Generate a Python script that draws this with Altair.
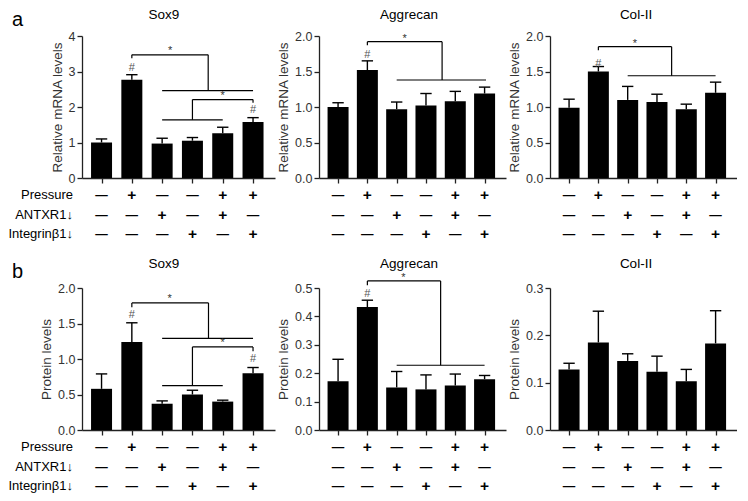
import altair as alt
import pandas as pd

FONT = "Liberation Sans"

# ---------------- data ----------------
genes = ["Sox9", "Aggrecan", "Col-II"]
row_labels = ["Pressure", "ANTXR1\u2193", "Integrin\u03b21\u2193"]
pressure = ["-", "+", "-", "-", "+", "+"]
antxr1 = ["-", "-", "+", "-", "+", "-"]
integrin = ["-", "-", "-", "+", "-", "+"]

# (a) relative mRNA levels
a_sox9_mean = [1.00, 2.77, 0.97, 1.05, 1.26, 1.58]
a_sox9_err = [0.10, 0.14, 0.15, 0.09, 0.17, 0.12]
a_agg_mean = [1.00, 1.52, 0.97, 1.02, 1.08, 1.19]
a_agg_err = [0.06, 0.13, 0.10, 0.17, 0.14, 0.09]
a_col_mean = [0.99, 1.50, 1.10, 1.07, 0.97, 1.20]
a_col_err = [0.12, 0.07, 0.19, 0.11, 0.07, 0.15]

# (b) protein levels
b_sox9_mean = [0.58, 1.24, 0.37, 0.50, 0.40, 0.80]
b_sox9_err = [0.21, 0.27, 0.04, 0.06, 0.02, 0.08]
b_agg_mean = [0.172, 0.433, 0.150, 0.143, 0.157, 0.179]
b_agg_err = [0.077, 0.024, 0.056, 0.051, 0.040, 0.013]
b_col_mean = [0.128, 0.185, 0.146, 0.123, 0.103, 0.183]
b_col_err = [0.013, 0.066, 0.015, 0.033, 0.025, 0.069]

# significance brackets: (x1, y1, x2, y2) in bar-index / value units
a_sox9_br = [(1, 3.37, 1, 3.47), (1, 3.47, 3.52, 3.47), (3.52, 3.47, 3.52, 2.46),
             (2.0, 2.46, 5.0, 2.46), (3.0, 2.21, 5.0, 2.21), (5.0, 2.21, 5.0, 2.12),
             (3.0, 2.21, 3.0, 1.64), (2.0, 1.64, 4.0, 1.64)]
a_sox9_star = [(2.26, 3.58), (4.0, 2.32)]
a_sox9_hash = [(1, 3.11), (5, 1.91)]

a_agg_br = [(1, 1.87, 1, 1.92), (1, 1.92, 3.55, 1.92), (3.55, 1.92, 3.55, 1.38),
            (2.0, 1.38, 5.05, 1.38)]
a_agg_star = [(2.27, 1.96)]
a_agg_hash = [(1, 1.73)]

a_col_br = [(1, 1.80, 1, 1.85), (1, 1.85, 3.5, 1.85), (3.5, 1.85, 3.5, 1.44),
            (2.0, 1.44, 5.0, 1.44)]
a_col_star = [(2.25, 1.89)]
a_col_hash = [(1, 1.61)]

b_sox9_br = [(1, 1.73, 1, 1.79), (1, 1.79, 3.53, 1.79), (3.53, 1.79, 3.53, 1.29),
             (2.0, 1.29, 5.0, 1.29), (3.0, 1.17, 5.0, 1.17), (5.0, 1.17, 5.0, 1.11),
             (3.0, 1.17, 3.0, 0.625), (2.0, 0.625, 4.0, 0.625)]
b_sox9_star = [(2.25, 1.84), (4.0, 1.22)]
b_sox9_hash = [(1, 1.62), (5, 1.0)]

b_agg_br = [(1, 0.51, 1, 0.525), (1, 0.525, 3.5, 0.525), (3.5, 0.525, 3.5, 0.228),
            (2.0, 0.228, 5.0, 0.228)]
b_agg_star = [(2.23, 0.536)]
b_agg_hash = [(1, 0.48)]

# ---------------- layout ----------------
W = [193, 187, 187]
H = 142
XDOM = [-0.48, 5.56]
TITLE_X = [82, 90, 86]
TITLE_Y = {"a": -21, "b": -24}
ROW_OFF = [17, 36.5, 56]
GLYPH = {"+": "+", "-": "\u2014"}
GSIZE = {"+": 15.5, "-": 12.5}

dummy = pd.DataFrame({"d": [0]})


def panel(row, col, mean, err, ydom, yticks, yfmt, ytitle, title,
          brackets=(), stars=(), hashes=()):
    w = W[col]
    n = len(mean)
    cap = 6.0 / (w / (XDOM[1] - XDOM[0]))
    df = pd.DataFrame({"i": list(range(n)), "m": mean,
                       "top": [m + e for m, e in zip(mean, err)]})
    df["cl"] = df["i"] - cap
    df["cr"] = df["i"] + cap

    ysc = alt.Scale(domain=ydom, nice=False, zero=True)
    yax = alt.Axis(values=yticks, format=yfmt, title=ytitle, grid=False,
                   tickSize=5, labelPadding=2, titlePadding=4)
    xsc = alt.Scale(domain=XDOM, nice=False, zero=False)
    xax = alt.Axis(values=list(range(n)), labels=False, title=None, grid=False,
                   tickSize=5)

    def X(f):
        return alt.X(f, type="quantitative", scale=xsc, axis=xax, title=None)

    def Y(f):
        return alt.Y(f, type="quantitative", scale=ysc, axis=yax, title=ytitle)

    layers = [
        alt.Chart(df).mark_bar(size=21, color="black").encode(x=X("i"), y=Y("m")),
        alt.Chart(df).mark_rule(color="black", strokeWidth=1.4).encode(
            x=X("i"), y=Y("m"), y2="top"),
        alt.Chart(df).mark_rule(color="black", strokeWidth=1.4).encode(
            x=X("cl"), x2="cr", y=Y("top")),
    ]
    if brackets:
        bdf = pd.DataFrame(brackets, columns=["x1", "y1", "x2", "y2"])
        layers.append(alt.Chart(bdf).mark_rule(color="black", strokeWidth=1.2).encode(
            x=X("x1"), x2="x2", y=Y("y1"), y2="y2"))
    if stars:
        sdf = pd.DataFrame(stars, columns=["x", "y"])
        layers.append(alt.Chart(sdf).mark_text(text="*", fontSize=11, color="#333",
                                               font=FONT, baseline="middle").encode(
            x=X("x"), y=Y("y")))
    if hashes:
        hdf = pd.DataFrame(hashes, columns=["x", "y"])
        layers.append(alt.Chart(hdf).mark_text(text="#", fontSize=11, color="#555",
                                               font=FONT, baseline="middle").encode(
            x=X("x"), y=Y("y")))
    # +/- rows
    for signs, off in zip([pressure, antxr1, integrin], ROW_OFF):
        gdf = pd.DataFrame({"i": list(range(n)),
                            "g": [GLYPH[s] for s in signs],
                            "fs": [GSIZE[s] for s in signs]})
        layers.append(alt.Chart(gdf).mark_text(font=FONT, fontWeight="bold",
                                               baseline="middle", color="black").encode(
            x=X("i"), y=alt.value(H + off), text="g:N",
            size=alt.Size("fs:Q", scale=None, legend=None)))
    # panel title
    layers.append(alt.Chart(dummy).mark_text(text=title, font=FONT, fontSize=13.5,
                                             baseline="middle", color="black").encode(
        x=alt.value(TITLE_X[col]), y=alt.value(TITLE_Y[row])))
    if col == 0:
        for lab, off in zip(row_labels, ROW_OFF):
            layers.append(alt.Chart(dummy).mark_text(text=lab, font=FONT, fontSize=13,
                                                     align="right", baseline="middle",
                                                     color="black").encode(
                x=alt.value(-9), y=alt.value(H + off)))
        layers.append(alt.Chart(dummy).mark_text(text=row, font=FONT, fontSize=20,
                                                 align="left", baseline="alphabetic",
                                                 color="black").encode(
            x=alt.value(-70), y=alt.value(-10)))
    return alt.layer(*layers).properties(width=w, height=H)


mr = "Relative mRNA levels"
pl = "Protein levels"
panels = [
    panel("a", 0, a_sox9_mean, a_sox9_err, [0, 4], [0, 1, 2, 3, 4], "d", mr, genes[0],
          a_sox9_br, a_sox9_star, a_sox9_hash),
    panel("a", 1, a_agg_mean, a_agg_err, [0, 2], [0, 0.5, 1, 1.5, 2], ".1f", mr, genes[1],
          a_agg_br, a_agg_star, a_agg_hash),
    panel("a", 2, a_col_mean, a_col_err, [0, 2], [0, 0.5, 1, 1.5, 2], ".1f", mr, genes[2],
          a_col_br, a_col_star, a_col_hash),
    panel("b", 0, b_sox9_mean, b_sox9_err, [0, 2], [0, 0.5, 1, 1.5, 2], ".1f", pl, genes[0],
          b_sox9_br, b_sox9_star, b_sox9_hash),
    panel("b", 1, b_agg_mean, b_agg_err, [0, 0.5], [0, 0.1, 0.2, 0.3, 0.4, 0.5], ".1f", pl,
          genes[1], b_agg_br, b_agg_star, b_agg_hash),
    panel("b", 2, b_col_mean, b_col_err, [0, 0.3], [0, 0.1, 0.2, 0.3], ".1f", pl, genes[2]),
]

chart = alt.concat(*panels, columns=3, spacing=alt.RowColnumber(row=110, column=44),
                   bounds="flush").properties(padding=0).configure_view(
    stroke=None).configure_axis(
    domainColor="#222", domainWidth=1.3, tickColor="#222", tickWidth=1.3,
    labelFont=FONT, labelFontSize=12.5, labelColor="#333",
    titleFont=FONT, titleFontSize=13.5, titleFontWeight="normal", titleColor="#333",
).configure_text(font=FONT)

chart.save("out.html", embed_options={"renderer": "svg", "actions": False})
